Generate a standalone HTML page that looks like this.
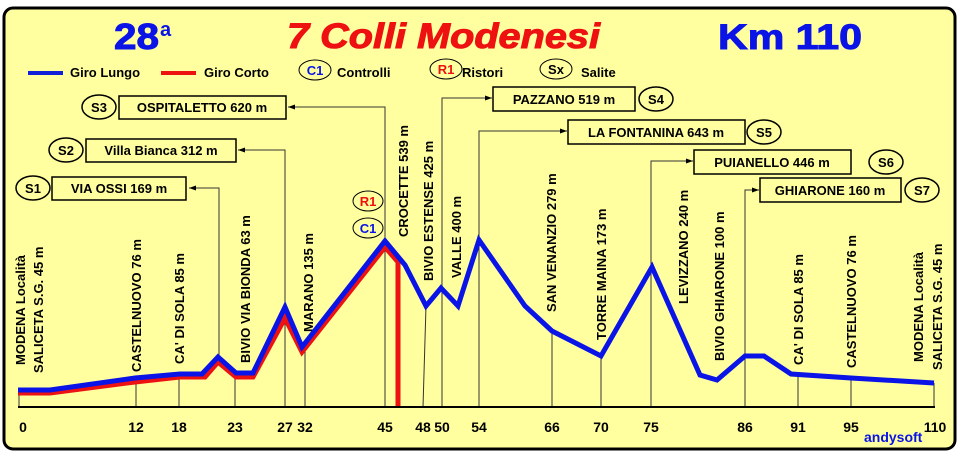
<!DOCTYPE html>
<html><head><meta charset="utf-8"><style>
html,body{margin:0;padding:0;background:#fff;}
svg{display:block;}
text{font-family:"Liberation Sans",Arial,sans-serif;font-weight:bold;}
</style></head><body>
<svg width="960" height="453" viewBox="0 0 960 453" xmlns="http://www.w3.org/2000/svg">
<defs><marker id="ar" markerWidth="8" markerHeight="8" refX="7" refY="4" orient="auto" markerUnits="userSpaceOnUse"><path d="M0,1.5 L7,4 L0,6.5 z" fill="#000"/></marker></defs>
<rect x="4" y="8" width="951" height="441" rx="9" ry="9" fill="#ffffa0" stroke="#000" stroke-width="3"/>

<!-- Titles -->
<text x="114" y="49" font-size="36" fill="#0a14e6" stroke="#0a14e6" stroke-width="1" textLength="45" lengthAdjust="spacingAndGlyphs">28</text><text x="160" y="36" font-size="20" fill="#0a14e6">a</text>
<text x="287" y="48" font-size="35" font-style="italic" fill="#ee1111" stroke="#ee1111" stroke-width="1" textLength="313" lengthAdjust="spacingAndGlyphs">7 Colli Modenesi</text>
<text x="718" y="49" font-size="35" fill="#0a14e6" stroke="#0a14e6" stroke-width="1" textLength="144" lengthAdjust="spacingAndGlyphs">Km 110</text>

<!-- Legend -->
<line x1="28" y1="73" x2="63" y2="73" stroke="#1020d8" stroke-width="4"/>
<text x="70" y="77" font-size="13">Giro Lungo</text>
<line x1="161" y1="73" x2="196" y2="73" stroke="#ee1111" stroke-width="4"/>
<text x="204" y="77" font-size="13">Giro Corto</text>
<ellipse cx="315" cy="70" rx="16" ry="10" fill="none" stroke="#000"/><text x="315" y="75" font-size="13" fill="#0a14e6" text-anchor="middle">C1</text>
<text x="337" y="77" font-size="13">Controlli</text>
<ellipse cx="446" cy="69" rx="16" ry="10" fill="none" stroke="#000"/><text x="446" y="74" font-size="13" fill="#ee1111" text-anchor="middle">R1</text>
<text x="462" y="77" font-size="13">Ristori</text>
<ellipse cx="556" cy="69" rx="16" ry="10" fill="none" stroke="#000"/><text x="556" y="74" font-size="13" text-anchor="middle">Sx</text>
<text x="581" y="77" font-size="13">Salite</text>

<!-- tick/guide lines -->
<g stroke="#333" stroke-width="1" fill="none">
<line x1="19" y1="407" x2="19" y2="390"/>
<line x1="136" y1="407" x2="136" y2="378"/>
<line x1="179" y1="407" x2="179" y2="374"/>
<line x1="235" y1="407" x2="235" y2="373"/>
<line x1="285" y1="407" x2="285" y2="307"/>
<line x1="305" y1="407" x2="305" y2="347"/>
<line x1="385" y1="407" x2="385" y2="241"/>
<line x1="423" y1="407" x2="426" y2="306"/>
<line x1="442" y1="407" x2="442" y2="288"/>
<line x1="479" y1="407" x2="479" y2="240"/>
<line x1="552" y1="407" x2="552" y2="331"/>
<line x1="601" y1="407" x2="601" y2="356"/>
<line x1="651" y1="407" x2="651" y2="267"/>
<line x1="745" y1="407" x2="745" y2="356"/>
<line x1="798" y1="407" x2="798" y2="375"/>
<line x1="851" y1="407" x2="851" y2="378"/>
<line x1="934" y1="407" x2="934" y2="383"/>
<polyline points="219,357 219,188 189,188" marker-end="url(#ar)"/>
<polyline points="285,307 285,150 238,150" marker-end="url(#ar)"/>
<polyline points="385,241 385,107 288,107" marker-end="url(#ar)"/>
<polyline points="442,288 442,98 492,98" marker-end="url(#ar)"/>
<polyline points="479,240 479,131 567,131" marker-end="url(#ar)"/>
<polyline points="651,267 651,161 693,161" marker-end="url(#ar)"/>
<polyline points="745,356 745,190 759,190" marker-end="url(#ar)"/>
</g>

<!-- boxes -->
<g fill="none" stroke="#000" stroke-width="1.5">
<rect x="119" y="96" width="167" height="23"/>
<rect x="86" y="139" width="150" height="23"/>
<rect x="52" y="177" width="134" height="23"/>
<rect x="493" y="87" width="142" height="24"/>
<rect x="568" y="120" width="177" height="24"/>
<rect x="694" y="150" width="157" height="24"/>
<rect x="760" y="178" width="141" height="24"/>
<ellipse cx="99" cy="107" rx="17" ry="12"/>
<ellipse cx="66" cy="150" rx="17" ry="12"/>
<ellipse cx="33" cy="188" rx="17" ry="12"/>
<ellipse cx="656" cy="99" rx="17" ry="12"/>
<ellipse cx="764" cy="132" rx="17" ry="12"/>
<ellipse cx="886" cy="162" rx="17" ry="12"/>
<ellipse cx="922" cy="190" rx="17" ry="12"/>
</g>
<g font-size="13" text-anchor="middle">
<text x="202" y="112">OSPITALETTO 620 m</text>
<text x="161" y="155">Villa Bianca 312 m</text>
<text x="119" y="193">VIA OSSI 169 m</text>
<text x="564" y="104">PAZZANO 519 m</text>
<text x="656" y="137">LA FONTANINA 643 m</text>
<text x="772" y="167">PUIANELLO 446 m</text>
<text x="830" y="195">GHIARONE 160 m</text>
<text x="99" y="112">S3</text>
<text x="66" y="155">S2</text>
<text x="33" y="193">S1</text>
<text x="656" y="104">S4</text>
<text x="764" y="137">S5</text>
<text x="886" y="167">S6</text>
<text x="922" y="195">S7</text>
</g>

<ellipse cx="368" cy="201" rx="15" ry="10" fill="none" stroke="#000"/><text x="368" y="206" font-size="13" fill="#ee1111" text-anchor="middle">R1</text>
<ellipse cx="368" cy="228" rx="15" ry="10" fill="none" stroke="#000"/><text x="368" y="233" font-size="13" fill="#0a14e6" text-anchor="middle">C1</text>

<g font-size="13">
<text transform="translate(25,365) rotate(-90)">MODENA Località</text>
<text transform="translate(43,373) rotate(-90)">SALICETA S.G. 45 m</text>
<text transform="translate(141,372) rotate(-90)">CASTELNUOVO 76 m</text>
<text transform="translate(184,364) rotate(-90)">CA' DI SOLA 85 m</text>
<text transform="translate(250,363) rotate(-90)">BIVIO VIA BIONDA 63 m</text>
<text transform="translate(313,332) rotate(-90)">MARANO 135 m</text>
<text transform="translate(408,237) rotate(-90)">CROCETTE 539 m</text>
<text transform="translate(433,281) rotate(-90)">BIVIO ESTENSE 425 m</text>
<text transform="translate(461,278) rotate(-90)">VALLE 400 m</text>
<text transform="translate(556,312) rotate(-90)">SAN VENANZIO 279 m</text>
<text transform="translate(606,340) rotate(-90)">TORRE MAINA 173 m</text>
<text transform="translate(688,304) rotate(-90)">LEVIZZANO 240 m</text>
<text transform="translate(724,361) rotate(-90)">BIVIO GHIARONE 100 m</text>
<text transform="translate(803,365) rotate(-90)">CA' DI SOLA 85 m</text>
<text transform="translate(856,368) rotate(-90)">CASTELNUOVO 76 m</text>
<text transform="translate(923,362) rotate(-90)">MODENA Località</text>
<text transform="translate(942,370) rotate(-90)">SALICETA S.G. 45 m</text>
</g>

<polyline points="18,393 50,393 135,382 180,377 205,377 218,362 236,377 253,377 285,318 302,352 385,247 398,262" fill="none" stroke="#ee1111" stroke-width="5"/>
<line x1="398" y1="260" x2="398" y2="408" stroke="#ee1111" stroke-width="5"/>
<polyline points="18,390 50,390 135,378 180,374 202,374 218,357 236,373 253,373 285,307 302,347 385,241 405,265 426,306 441,288 458,306 479,240 525,306 552,331 601,356 652,267 700,375 717,380 745,356 764,356 791,374 851,378 934,383" fill="none" stroke="#0a14e6" stroke-width="5"/>

<line x1="18" y1="407" x2="935" y2="407" stroke="#000" stroke-width="2"/>
<g font-size="14" text-anchor="middle">
<text x="23" y="432">0</text>
<text x="136" y="432">12</text>
<text x="179" y="432">18</text>
<text x="235" y="432">23</text>
<text x="285" y="432">27</text>
<text x="305" y="432">32</text>
<text x="385" y="432">45</text>
<text x="423" y="432">48</text>
<text x="442" y="432">50</text>
<text x="479" y="432">54</text>
<text x="552" y="432">66</text>
<text x="601" y="432">70</text>
<text x="651" y="432">75</text>
<text x="745" y="432">86</text>
<text x="798" y="432">91</text>
<text x="851" y="432">95</text>
<text x="935" y="432">110</text>
</g>
<text x="864" y="442" font-size="14" fill="#0a14e6">andysoft</text>
</svg>
</body></html>
